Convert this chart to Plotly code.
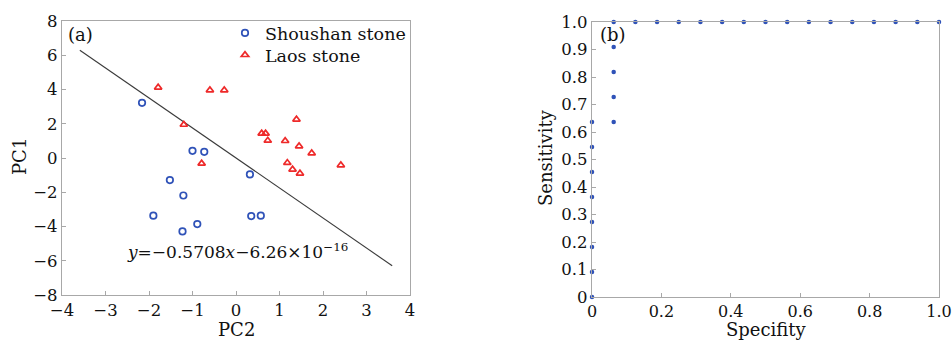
import plotly.graph_objects as go

# ---- Panel (a): PCA scores ----
shoushan_pc2 = [-2.16, -1.00, -0.73, -1.52, -1.21, -1.90, -1.23, -0.89, 0.32, 0.35, 0.57]
shoushan_pc1 = [3.22, 0.42, 0.36, -1.29, -2.19, -3.37, -4.29, -3.86, -0.96, -3.39, -3.37]

laos_pc2 = [-1.79, -0.60, -0.27, -1.20, -0.79, 0.59, 0.68, 0.73, 1.13, 1.39, 1.45, 1.74, 1.18, 1.30, 1.47, 2.41]
laos_pc1 = [4.12, 3.96, 3.96, 1.95, -0.32, 1.43, 1.43, 1.02, 1.00, 2.25, 0.69, 0.28, -0.28, -0.67, -0.90, -0.42]

line_pc2 = [-3.59, 3.59]
line_pc1 = [6.29, -6.29]

# ---- Panel (b): ROC points ----
roc_spec = [0, 0, 0, 0, 0, 0, 0, 0,
            0.0625, 0.0625, 0.0625, 0.0625, 0.0625,
            0.125, 0.1875, 0.25, 0.3125, 0.375, 0.4375, 0.5, 0.5625, 0.625,
            0.6875, 0.75, 0.8125, 0.875, 0.9375, 1.0]
roc_sens = [0, 0.0909, 0.1818, 0.2727, 0.3636, 0.4545, 0.5455, 0.6364,
            0.6364, 0.7273, 0.8182, 0.9091, 1.0,
            1, 1, 1, 1, 1, 1, 1, 1, 1,
            1, 1, 1, 1, 1, 1]

a_xticks = [-4, -3, -2, -1, 0, 1, 2, 3, 4]
a_yticks = [-8, -6, -4, -2, 0, 2, 4, 6, 8]
b_xticks = [0, 0.2, 0.4, 0.6, 0.8, 1.0]
b_xticktext = ["0", "0.2", "0.4", "0.6", "0.8", "1.0"]
b_yticks = [0, 0.1, 0.2, 0.3, 0.4, 0.5, 0.6, 0.7, 0.8, 0.9, 1.0]
b_yticktext = ["0", "0.1", "0.2", "0.3", "0.4", "0.5", "0.6", "0.7", "0.8", "0.9", "1.0"]

FONT = "DejaVu Serif"
BLUE = "#2f52b8"
RED = "#ee2a2a"
AXC = "#a8a8a8"
TXT = "#111111"

fig = go.Figure()

fig.add_trace(go.Scatter(x=line_pc2, y=line_pc1, mode="lines",
                         line=dict(color="#3a3a3a", width=1.1),
                         showlegend=False, xaxis="x", yaxis="y"))
fig.add_trace(go.Scatter(x=shoushan_pc2, y=shoushan_pc1, mode="markers",
                         name="Shoushan stone", legend="legend",
                         marker=dict(symbol="circle-open", size=6.5, color=BLUE,
                                     line=dict(width=1.7, color=BLUE)),
                         xaxis="x", yaxis="y"))
fig.add_trace(go.Scatter(x=laos_pc2, y=laos_pc1, mode="markers",
                         name="Laos stone", legend="legend2",
                         marker=dict(symbol="triangle-up-open", size=6.5, color=RED,
                                     line=dict(width=1.7, color=RED)),
                         xaxis="x", yaxis="y"))
fig.add_trace(go.Scatter(x=roc_spec, y=roc_sens, mode="markers",
                         marker=dict(symbol="circle", size=4.5, color=BLUE),
                         showlegend=False, cliponaxis=False,
                         xaxis="x2", yaxis="y2"))

axis_common = dict(showgrid=False, zeroline=False, showline=True, linecolor=AXC,
                   linewidth=1.2, mirror=True, ticks="inside", ticklen=4,
                   tickcolor=AXC, tickwidth=1, automargin=False,
                   tickfont=dict(family=FONT, size=16.5, color=TXT))

legend_common = dict(xanchor="left", yanchor="middle", bgcolor="rgba(0,0,0,0)",
                     font=dict(family=FONT, size=17.5, color=TXT), itemwidth=30)

fig.update_layout(
    width=952, height=342,
    margin=dict(l=0, r=0, t=0, b=0, autoexpand=False),
    paper_bgcolor="white", plot_bgcolor="white",
    font=dict(family=FONT, size=18, color=TXT),
    xaxis=dict(axis_common, domain=[62/952, 410/952], range=[-4, 4],
               tickvals=a_xticks, anchor="y"),
    yaxis=dict(axis_common, domain=[1-295/342, 1-21/342], range=[-8, 8],
               tickvals=a_yticks, anchor="x"),
    xaxis2=dict(axis_common, domain=[592/952, 939/952], range=[0, 1],
                tickvals=b_xticks, ticktext=b_xticktext, anchor="y2",
                tickfont=dict(family=FONT, size=16, color=TXT)),
    yaxis2=dict(axis_common, domain=[1-297/342, 1-22/342], range=[0, 1],
                tickvals=b_yticks, ticktext=b_yticktext, anchor="x2"),
    legend=dict(legend_common, x=225/952, y=1-33/342),
    legend2=dict(legend_common, x=225/952, y=1-55/342),
    showlegend=True,
)

ann_font = dict(family=FONT, size=18, color=TXT)
# axis titles
fig.add_annotation(text="PC2", xref="paper", yref="paper", x=236/952, y=1-329/342,
                   xanchor="center", yanchor="middle", showarrow=False, font=ann_font)
fig.add_annotation(text="PC1", xref="paper", yref="paper", x=20/952, y=1-157/342,
                   xanchor="center", yanchor="middle", showarrow=False, font=ann_font,
                   textangle=-90)
fig.add_annotation(text="Specifity", xref="paper", yref="paper", x=766/952, y=1-329/342,
                   xanchor="center", yanchor="middle", showarrow=False, font=ann_font)
fig.add_annotation(text="Sensitivity", xref="paper", yref="paper", x=545/952, y=1-158/342,
                   xanchor="center", yanchor="middle", showarrow=False, font=ann_font,
                   textangle=-90)
# panel labels
fig.add_annotation(text="(a)", xref="x domain", yref="y domain", x=0.012, y=0.949,
                   xanchor="left", yanchor="middle", showarrow=False, font=ann_font)
fig.add_annotation(text="(b)", xref="x2 domain", yref="y2 domain", x=0.016, y=0.953,
                   xanchor="left", yanchor="middle", showarrow=False, font=ann_font)
# regression equation
fig.add_annotation(text="<i>y</i>=−0.5708<i>x</i>−6.26×10<sup>−16</sup>",
                   xref="x", yref="y", x=0.03, y=-5.45,
                   xanchor="center", yanchor="middle", showarrow=False,
                   font=dict(family=FONT, size=17, color=TXT))

fig.write_html("out.html", config={"displayModeBar": False},
               post_script="document.body.style.margin='0';document.body.style.overflow='hidden';")
